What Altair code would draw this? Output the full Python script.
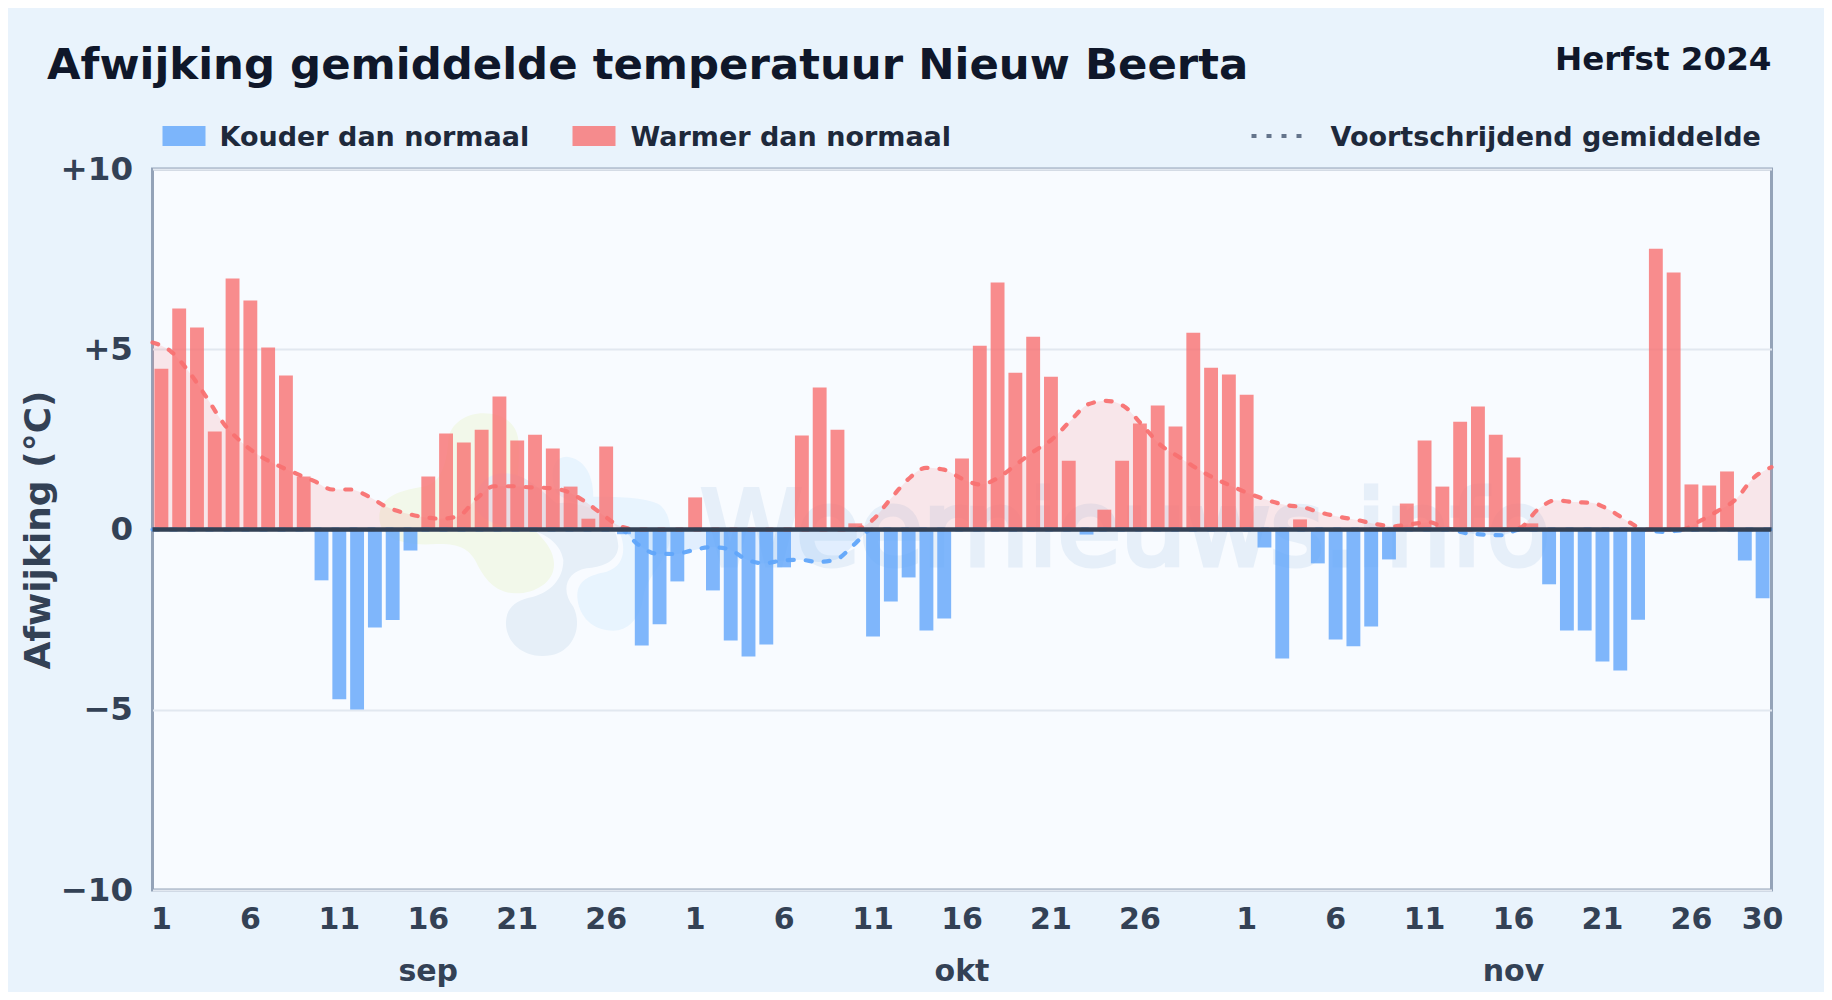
import altair as alt
import pandas as pd

months = ["sep"] * 30 + ["okt"] * 31 + ["nov"] * 30
days = list(range(1, 31)) + list(range(1, 32)) + list(range(1, 31))

deviation = [
    4.46, 6.13, 5.60, 2.72, 6.96, 6.35, 5.05, 4.27, 1.47, -1.41,
    -4.71, -4.99, -2.72, -2.51, -0.58, 1.47, 2.66, 2.41, 2.77, 3.69,
    2.47, 2.63, 2.25, 1.19, 0.30, 2.30, -0.13, -3.22, -2.63, -1.44,
    0.89, -1.69, -3.08, -3.52, -3.19, -1.05, 2.61, 3.94, 2.77, 0.17,
    -2.97, -2.00, -1.33, -2.80, -2.47, 1.97, 5.10, 6.85, 4.35, 5.35,
    4.24, 1.91, -0.14, 0.55, 1.91, 2.94, 3.44, 2.86, 5.46, 4.49, 4.30,
    3.74, -0.50, -3.58, 0.28, -0.94, -3.05, -3.24, -2.69, -0.83, 0.72,
    2.47, 1.19, 2.99, 3.41, 2.63, 2.00, 0.17, -1.52, -2.80, -2.80,
    -3.66, -3.91, -2.50, 7.79, 7.13, 1.25, 1.22, 1.61, -0.86, -1.91,
]

moving_avg = [
    5.19, 4.95, 4.39, 3.67, 2.91, 2.40, 2.03, 1.77, 1.55, 1.34,
    1.11, 1.11, 0.92, 0.63, 0.46, 0.35, 0.30, 0.37, 0.85, 1.20,
    1.20, 1.17, 1.15, 1.06, 0.79, 0.42, 0.09, -0.42, -0.67, -0.68,
    -0.58, -0.49, -0.54, -0.83, -0.94, -0.86, -0.84, -0.90, -0.83, -0.42,
    0.25, 0.83, 1.39, 1.71, 1.66, 1.41, 1.25, 1.43, 1.80, 2.17,
    2.50, 3.00, 3.47, 3.57, 3.42, 2.91, 2.36, 2.03, 1.71, 1.43,
    1.20, 0.99, 0.81, 0.68, 0.61, 0.46, 0.35, 0.26, 0.15, 0.09,
    0.15, 0.20, 0.02, -0.10, -0.14, -0.16, 0.05, 0.55, 0.81, 0.76,
    0.74, 0.54, 0.23, -0.02, -0.07, -0.02, 0.23, 0.51, 0.83, 1.43, 1.73,
]

tick_days = {"sep": [1, 6, 11, 16, 21, 26], "okt": [1, 6, 11, 16, 21, 26], "nov": [1, 6, 11, 16, 21, 26, 30]}
y_ticks = [-10, -5, 0, 5, 10]
title_text = "Afwijking gemiddelde temperatuur Nieuw Beerta"
season_text = "Herfst 2024"
y_title = "Afwijking (°C)"
legend_cold = "Kouder dan normaal"
legend_warm = "Warmer dan normaal"
legend_avg = "Voortschrijdend gemiddelde"
watermark = "Weernieuws.info"

FONT = "DejaVu Sans"
RED, BLUE = "#f87171", "#60a5fa"
PW, PH = 1619, 721

keys = [f"{m} {d}" for m, d in zip(months, days)]
bars_df = pd.DataFrame({"key": keys, "v": deviation})
line_df = pd.DataFrame({"i": list(range(len(moving_avg))), "v": moving_avg})
line_df["pos"] = line_df["v"].clip(lower=0)
line_df["neg"] = line_df["v"].clip(upper=0)
line_df["zero"] = 0
tick_keys = [f"{m} {d}" for m, ds in tick_days.items() for d in ds]
month_df = pd.DataFrame({"key": ["sep 16", "okt 16", "nov 16"], "label": ["sep", "okt", "nov"]})

y_scale = alt.Scale(domain=[-10, 10], nice=False)
x_band = alt.Scale(domain=keys, paddingInner=0.22, paddingOuter=0.11)
x_line = alt.X("i:Q", axis=None, scale=alt.Scale(domain=[0, 90], nice=False, zero=False))

bars = alt.Chart(bars_df).mark_bar(opacity=0.8).encode(
    x=alt.X("key:N", scale=x_band, sort=None, title=None, axis=alt.Axis(
        values=tick_keys, labelExpr="split(datum.value, ' ')[1]", labelAngle=0, labelFont=FONT,
        labelFontWeight="bold", labelFontSize=30, labelColor="#334155", labelPadding=14,
        labelOverlap=False, labelFlush=False, domain=False, ticks=False, grid=False)),
    y=alt.Y("v:Q", scale=y_scale, title=y_title, axis=alt.Axis(
        values=y_ticks, labelExpr="datum.value > 0 ? '+' + datum.value : datum.value < 0 ? '−' + abs(datum.value) : '0'",
        labelFont=FONT, labelFontWeight="bold", labelFontSize=32.5, labelColor="#334155", labelPadding=20,
        titleFont=FONT, titleFontWeight="bold", titleFontSize=36, titleColor="#334155", titleX=-95,
        domain=False, ticks=False, grid=True, gridColor="#e2e8f0", gridWidth=2)),
    color=alt.condition("datum.v >= 0", alt.value(RED), alt.value(BLUE)),
)

area_pos = alt.Chart(line_df).mark_area(interpolate="monotone", color=RED, opacity=0.15).encode(
    x=x_line, y=alt.Y("pos:Q", scale=y_scale, title=y_title), y2="zero:Q")
area_neg = alt.Chart(line_df).mark_area(interpolate="monotone", color=BLUE, opacity=0.15).encode(
    x=x_line, y=alt.Y("neg:Q", scale=y_scale, title=y_title), y2="zero:Q")
dash = dict(interpolate="monotone", strokeWidth=4.2, strokeDash=[6, 12], strokeCap="round", opacity=0.95)
line_pos = alt.Chart(line_df).mark_line(color=RED, **dash).encode(
    x=x_line, y=alt.Y("pos:Q", scale=y_scale, title=y_title))
line_neg = alt.Chart(line_df).mark_line(color=BLUE, **dash).encode(
    x=x_line, y=alt.Y("neg:Q", scale=y_scale, title=y_title))

zero_rule = alt.Chart(pd.DataFrame({"z": [0]})).mark_rule(color="#334155", strokeWidth=4.5).encode(
    y=alt.Y("z:Q", scale=y_scale, title=y_title))


def one():
    return alt.Chart(pd.DataFrame({"a": [0]}))


def text(label, x, y, size, color, align="left", weight="bold"):
    return one().mark_text(text=label, font=FONT, fontSize=size, fontWeight=weight, color=color,
                           align=align, baseline="alphabetic").encode(x=alt.value(x), y=alt.value(y))


def swatch(x, x2, color):
    return one().mark_rect(color=color, opacity=0.8).encode(
        x=alt.value(x), x2=alt.value(x2), y=alt.value(-43), y2=alt.value(-23))


wm_text = one().mark_text(text=watermark, font=FONT, fontSize=103, color="#3b7fc4", stroke="#3b7fc4",
                          strokeWidth=5, opacity=0.09,
                          align="left", baseline="alphabetic").encode(x=alt.value(548), y=alt.value(396))

# Background logo, drawn as filled path symbols (path units are the 1/3 px grid)
blob_green = ("M370 70C430 70 470 100 475 150C480 220 470 280 470 330C470 400 580 440 582 520C584 580 520 612 465 610"
              "C400 608 370 560 345 510C320 470 290 462 230 462C120 470 60 440 58 385C56 320 120 300 190 290"
              "C240 280 260 230 265 150C270 100 320 70 370 70Z")
blob_grey = ("M430 250C500 250 540 300 590 340C650 330 770 360 775 470C770 520 720 530 680 535C620 545 600 600 640 650"
             "C670 710 640 800 545 798C470 796 435 740 438 695C440 650 470 630 520 620C570 605 610 570 610 510"
             "C600 450 540 420 470 410C400 410 340 380 345 330C350 280 390 250 430 250Z")
blob_blue = ("M620 200C670 205 700 250 700 320C760 320 860 320 900 345C935 375 935 430 925 470C900 540 860 560 850 620"
             "C840 690 800 722 760 722C700 722 655 680 652 620C650 570 690 555 740 545C790 530 800 480 780 430"
             "C750 360 640 350 590 310C570 270 570 200 620 200Z")


def blob(path, color):
    return one().mark_point(shape=path, filled=True, fill=color, stroke=None, opacity=1, size=4 / 9).encode(
        x=alt.value(207.5), y=alt.value(221))


month_labels = alt.Chart(month_df).mark_text(font=FONT, fontSize=30, fontWeight="bold", color="#334155",
                                             baseline="alphabetic").encode(
    x=alt.X("key:N", scale=x_band, sort=None, axis=None), y=alt.value(812), text="label:N")

avg_key = one().mark_rule(color="#64748b", strokeWidth=4, strokeDash=[5, 10]).encode(
    x=alt.value(1099), x2=alt.value(1155), y=alt.value(-33))

chart = alt.layer(
    blob(blob_green, "#f2f8ea"), blob(blob_blue, "#e8f4fe"), blob(blob_grey, "#e6eff8"), wm_text,
    area_pos, area_neg, bars, line_pos, line_neg, zero_rule, month_labels,
    text(title_text, -105.5, -90, 43.4, "#0f172a"),
    text(season_text, PW, -99, 32.6, "#0f172a", align="right"),
    swatch(10, 53, BLUE), text(legend_cold, 67, -23, 27, "#1e293b"),
    swatch(420, 463, RED), text(legend_warm, 478, -23, 27, "#1e293b"),
    avg_key, text(legend_avg, 1178, -23, 27, "#1e293b"),
).resolve_scale(x="independent").properties(
    width=PW, height=PH,
    background="#e9f3fc",
    padding={"left": 144.5, "top": 161, "right": 52.5, "bottom": 102},
    autosize=alt.AutoSizeParams(type="none"),
).configure_view(fill="#f8fbff", stroke="#94a3b8", strokeWidth=3)

chart.save("out.html", embed_options={"renderer": "svg", "actions": False})
